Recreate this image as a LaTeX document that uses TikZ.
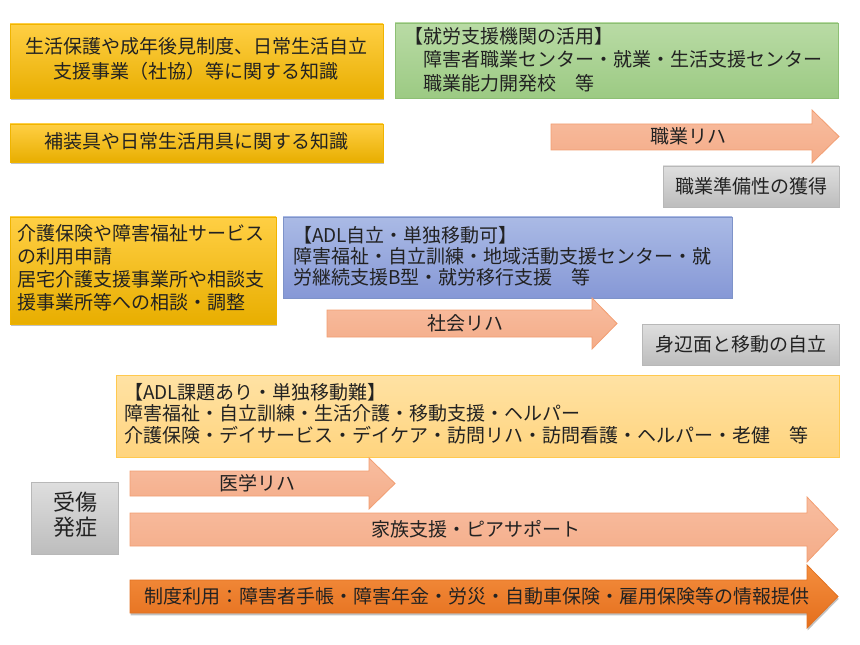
\documentclass[tikz,border=0pt]{standalone}
\usepackage{fontspec}
\setmainfont{Noto Sans CJK JP}
\usetikzlibrary{shadows}
\definecolor{goldT}{HTML}{FFCF44}
\definecolor{goldM}{HTML}{FFC20E}
\definecolor{goldB}{HTML}{E8AE00}
\definecolor{goldD}{HTML}{F0B400}
\definecolor{greenT}{HTML}{B9DBA5}
\definecolor{greenB}{HTML}{9CCA83}
\definecolor{greenD}{HTML}{8DBF74}
\definecolor{blueT}{HTML}{AABAE5}
\definecolor{blueB}{HTML}{8698D6}
\definecolor{blueD}{HTML}{7E93C9}
\definecolor{lightT}{HTML}{FFE2A4}
\definecolor{lightB}{HTML}{FFD47E}
\definecolor{lightD}{HTML}{FFC94F}
\definecolor{grayT}{HTML}{DEDEDE}
\definecolor{grayB}{HTML}{BDBDBD}
\definecolor{grayD}{HTML}{B8B8B8}
\definecolor{salT}{HTML}{F8BDA0}
\definecolor{salB}{HTML}{F4AC88}
\definecolor{salD}{HTML}{F29E72}
\definecolor{orT}{HTML}{F48E3E}
\definecolor{orB}{HTML}{E46E1C}
\definecolor{orD}{HTML}{E27222}
\definecolor{ink}{HTML}{222222}
\begin{document}
\begin{tikzpicture}[x=0.75pt,y=-0.75pt,
  box/.style={rectangle, inner sep=0pt, outer sep=0pt, line width=0.6pt},
  goldbox/.style={box, top color=goldT, middle color=goldM, bottom color=goldB, draw=goldD,
    drop shadow={shadow xshift=0.5pt, shadow yshift=-1.8pt, opacity=0.35, fill=black!70}},
  greenbox/.style={box, top color=greenT, bottom color=greenB, draw=greenD},
  bluebox/.style={box, top color=blueT, bottom color=blueB, draw=blueD},
  lightbox/.style={box, top color=lightT, bottom color=lightB, draw=lightD},
  graybox/.style={box, top color=grayT, bottom color=grayB, draw=grayD},
  salarrow/.style={top color=salT, bottom color=salB, draw=salD, line width=0.6pt, line join=miter},
  orarrow/.style={top color=orT, bottom color=orB, draw=orD, line width=0.6pt, line join=miter,
    drop shadow={shadow xshift=0.5pt, shadow yshift=-1.8pt, opacity=0.35, fill=black!70}},
  txt/.style={inner sep=0pt, outer sep=0pt, text=ink, font=\fontsize{14.25pt}{17.6pt}\selectfont}
]
\useasboundingbox (0,0) rectangle (860,645);

% boxes
\node[goldbox, minimum width=279.75pt, minimum height=55.5pt] (b1) at (196.5,61) {};
\node[goldbox, minimum width=279.75pt, minimum height=28.5pt] (b2) at (196.5,143) {};
\node[greenbox, minimum width=332.25pt, minimum height=56.25pt] (gr) at (616.5,60.5) {};
\node[graybox, minimum width=132pt, minimum height=30.75pt] (g1) at (751,186.5) {};
\node[bluebox, minimum width=336.75pt, minimum height=60.75pt] (bl) at (507.5,257.5) {};
\node[goldbox, minimum width=199.5pt, minimum height=80.25pt] (b3) at (143,270.5) {};
\node[graybox, minimum width=147.75pt, minimum height=30.75pt] (g2) at (740.5,344.5) {};
\node[lightbox, minimum width=542.25pt, minimum height=61.5pt] (lt) at (477.5,416) {};
\node[graybox, minimum width=65.25pt, minimum height=54pt] (g3) at (74.5,518) {};

% arrows
\path[salarrow] (551,124) -- (812,124) -- (812,110) -- (839,136.5) -- (812,163) -- (812,150) -- (551,150) -- cycle;
\path[salarrow] (327,310) -- (592,310) -- (592,298) -- (617,323.5) -- (592,349) -- (592,337) -- (327,337) -- cycle;
\path[salarrow] (130,471) -- (369,471) -- (369,458) -- (395,483.5) -- (369,509) -- (369,496) -- (130,496) -- cycle;
\path[salarrow] (130,513) -- (807,513) -- (807,497) -- (838,529.5) -- (807,562) -- (807,546) -- (130,546) -- cycle;
\path[orarrow] (130,580) -- (807,580) -- (807,565) -- (838,596.5) -- (807,628) -- (807,613) -- (130,613) -- cycle;

% texts
\node[txt, align=center, font=\fontsize{14.25pt}{18.4pt}\selectfont] (t1) at (196,59) {生活保護や成年後見制度、日常生活自立\\支援事業（社協）等に関する知識};
\node[txt] (t2) at (196,141.5) {補装具や日常生活用具に関する知識};
\node[txt, align=left, anchor=west] (t3) at (404,59.5) {【就労支援機関の活用】\\\hspace*{1em}障害者職業センター・就業・生活支援センター\\\hspace*{1em}職業能力開発校　等};
\node[txt] (t4) at (688,136.5) {職業リハ};
\node[txt] (t5) at (751,186.5) {職業準備性の獲得};
\node[txt, align=left, anchor=west, font=\fontsize{14.25pt}{15.6pt}\selectfont] (t6) at (293,256) {【ADL自立・単独移動可】\\障害福祉・自立訓練・地域活動支援センター・就\\労継続支援B型・就労移行支援　等};
\node[txt, align=left, anchor=west, font=\fontsize{14.25pt}{17.3pt}\selectfont] (t7) at (17,267.5) {介護保険や障害福祉サービス\\の利用申請\\居宅介護支援事業所や相談支\\援事業所等への相談・調整};
\node[txt] (t8) at (465,323.5) {社会リハ};
\node[txt] (t9) at (741,344.5) {身辺面と移動の自立};
\node[txt, align=left, anchor=west, font=\fontsize{14.25pt}{16.2pt}\selectfont] (t10) at (124,413.5) {【ADL課題あり・単独移動難】\\障害福祉・自立訓練・生活介護・移動支援・ヘルパー\\介護保険・デイサービス・デイケア・訪問リハ・訪問看護・ヘルパー・老健　等};
\node[txt] (t11) at (257,483.5) {医学リハ};
\node[txt, align=center, font=\fontsize{16.5pt}{18.75pt}\selectfont] (t12) at (75,514.5) {受傷\\発症};
\node[txt] (t13) at (476,529.5) {家族支援・ピアサポート};
\node[txt] (t14) at (477,596.5) {制度利用：障害者手帳・障害年金・労災・自動車保険・雇用保険等の情報提供};
\end{tikzpicture}
\end{document}
